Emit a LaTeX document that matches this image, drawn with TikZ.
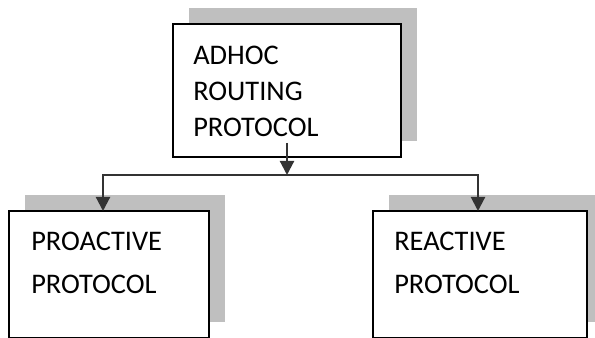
\documentclass[tikz,border=0pt]{standalone}
\usepackage{fontspec}
\setmainfont{Carlito}
\usetikzlibrary{arrows.meta,backgrounds,positioning}

\begin{document}
\begin{tikzpicture}
  [x=0.75pt,y=-0.75pt,>={Triangle[length=10.5pt,width=10.5pt]},
  box/.style={draw=black,line width=1.5pt,fill=white,anchor=north west,
    inner sep=0pt,outer sep=0pt},
  caption/.style={anchor=north west,inner sep=0pt,align=left,
    font=\fontsize{21.3}{32.25}\selectfont},
  link/.style={draw=black!80,line width=1.6pt},
  shadow/.style={fill=black!25}]
  \useasboundingbox (0,0) rectangle (595,338);
  % boxes
  \node [box,minimum width=171pt,minimum height=99.75pt] (adhoc) at (173,24) {};
  \node [box,minimum width=150pt,minimum height=95.25pt] (pro) at (9,211) {};
  \node [box,minimum width=160.5pt,minimum height=95.25pt] (rea) at (373,211) {};
  % texts
  \node [caption,font=\fontsize{21.3}{27}\selectfont] (adhoc text) at (193,46)
  {ADHOC\\ROUTING\\PROTOCOL};
  \node [caption] (pro text) at (31,232) {PROACTIVE\\PROTOCOL};
  \node [caption] (rea text) at (394,232) {REACTIVE\\PROTOCOL};
  % connectors
  \coordinate (split) at ([yshift=-13.5pt]adhoc.south);
  \draw [link,->] ([yshift=10.5pt]adhoc.south) -- (split);
  \draw [link,->] (split) -| ([xshift=-4.5pt]pro.north);
  \draw [link,->] (split) -| ([xshift=-1.5pt]rea.north);
  \begin{scope}[on background layer]
    \foreach \n in {adhoc,pro,rea}
    \fill [shadow] ([shift={(16,-16)}]\n.south west)
    rectangle ([shift={(16,-16)}]\n.north east);
  \end{scope}
\end{tikzpicture}
\end{document}
